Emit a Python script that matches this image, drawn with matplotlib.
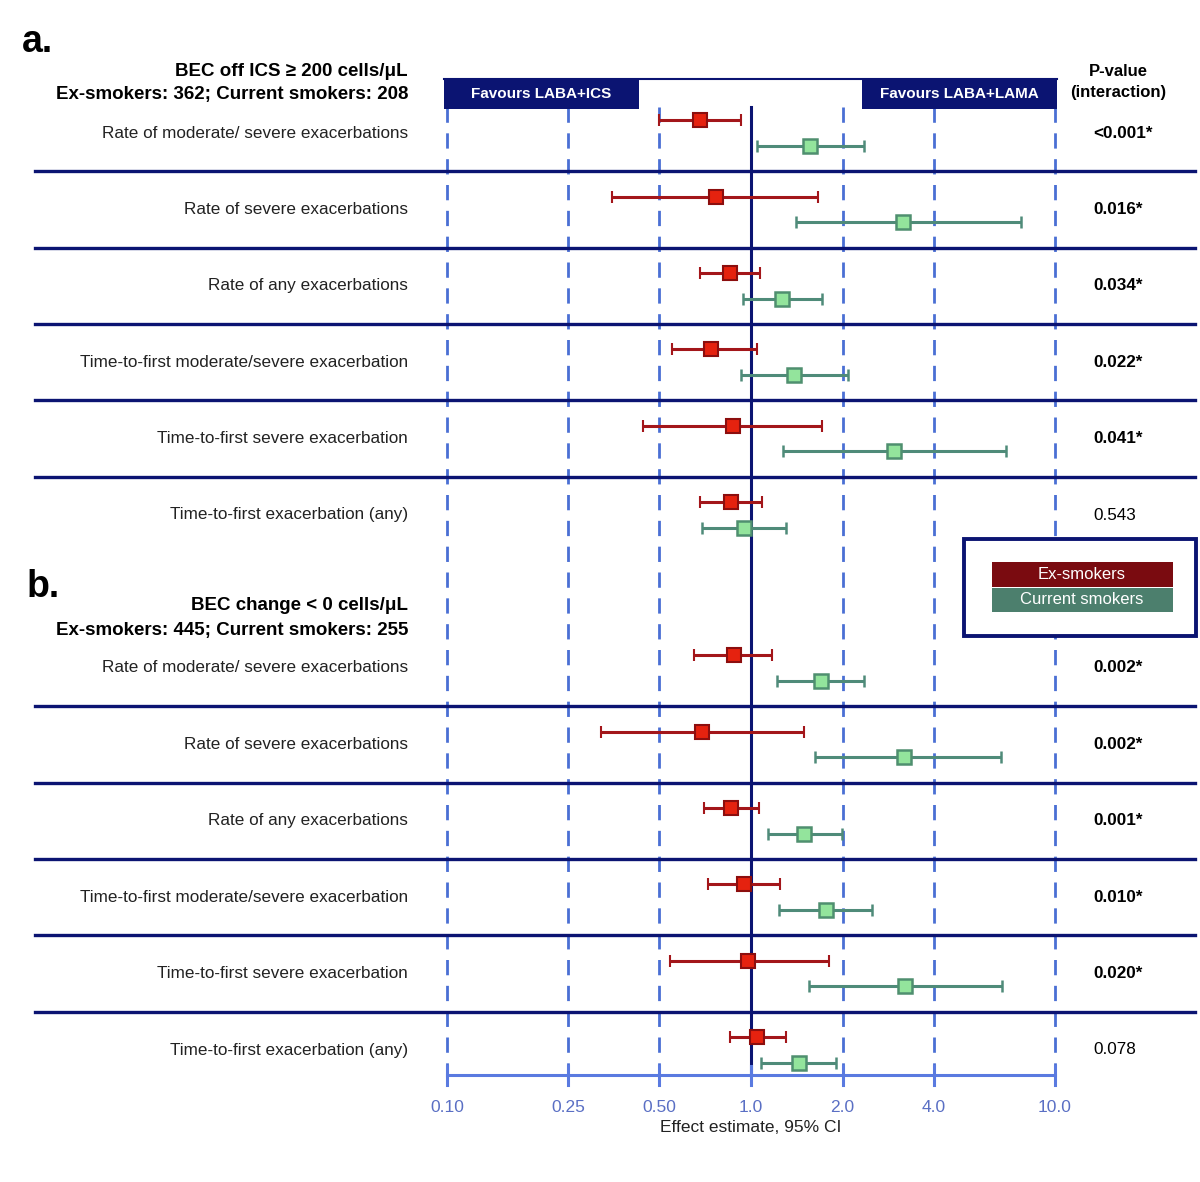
import matplotlib
matplotlib.use("Agg")
import matplotlib.pyplot as plt
from matplotlib.patches import Rectangle
import numpy as np

plt.rcParams['font.family'] = ['Liberation Sans', 'DejaVu Sans']

# ---------------- data ----------------
outcomes = [
    "Rate of moderate/ severe exacerbations",
    "Rate of severe exacerbations",
    "Rate of any exacerbations",
    "Time-to-first moderate/severe exacerbation",
    "Time-to-first severe exacerbation",
    "Time-to-first exacerbation (any)",
]

# Panel a: BEC off ICS >= 200 cells/uL
a_ex_est = [0.68, 0.77, 0.85, 0.74, 0.87, 0.86]
a_ex_lo  = [0.50, 0.35, 0.68, 0.55, 0.44, 0.68]
a_ex_hi  = [0.93, 1.66, 1.07, 1.05, 1.71, 1.09]
a_cs_est = [1.56, 3.16, 1.26, 1.38, 2.95, 0.95]
a_cs_lo  = [1.05, 1.41, 0.94, 0.93, 1.27, 0.69]
a_cs_hi  = [2.35, 7.73, 1.71, 2.08, 6.88, 1.30]
a_pvals  = ["<0.001*", "0.016*", "0.034*", "0.022*", "0.041*", "0.543"]

# Panel b: BEC change < 0 cells/uL
b_ex_est = [0.88, 0.69, 0.86, 0.95, 0.98, 1.05]
b_ex_lo  = [0.65, 0.32, 0.70, 0.72, 0.54, 0.85]
b_ex_hi  = [1.17, 1.49, 1.06, 1.25, 1.80, 1.30]
b_cs_est = [1.70, 3.19, 1.49, 1.76, 3.21, 1.44]
b_cs_lo  = [1.22, 1.62, 1.14, 1.24, 1.55, 1.08]
b_cs_hi  = [2.36, 6.64, 1.99, 2.50, 6.69, 1.90]
b_pvals  = ["0.002*", "0.002*", "0.001*", "0.010*", "0.020*", "0.078"]

xticks = [0.10, 0.25, 0.50, 1.0, 2.0, 4.0, 10.0]
xtick_labels = ["0.10", "0.25", "0.50", "1.0", "2.0", "4.0", "10.0"]

# ---------------- style ----------------
NAVY = "#0b1472"
DASH = "#4a6fd4"
AXIS = "#5a7ae0"
TICKLAB = "#5a6fc4"
EX_LINE = "#a3161a"
EX_FACE = "#e5220f"
EX_EDGE = "#8c0e0e"
CS_LINE = "#4f8b79"
CS_FACE = "#93e49c"
CS_EDGE = "#4f8f6f"
LEG_EX = "#7a0b10"
LEG_CS = "#4c7f6d"

W, H = 1200, 1182
fig = plt.figure(figsize=(W / 100, H / 100), dpi=100)

# forest axes: log x, pixel y
x0, x1 = 447, 1055
fa = fig.add_axes([x0 / W, 0, (x1 - x0) / W, 1])
fa.set_xscale("log")
fa.set_xlim(0.1, 10)
fa.set_ylim(H, 0)
fa.axis("off")

# overlay axes in pixel coordinates (drawn on top)
ov = fig.add_axes([0, 0, 1, 1])
ov.set_xlim(0, W)
ov.set_ylim(H, 0)
ov.axis("off")

row_a0, row_b0, step, off = 133, 668, 76.4, 12.8
dash_top, axis_y = 107, 1075

# dashed reference lines & solid null line
for t in xticks:
    if t == 1.0:
        fa.plot([t, t], [dash_top, axis_y], color=NAVY, lw=2.2, zorder=2, clip_on=False)
    else:
        fa.plot([t, t], [dash_top, axis_y], color=DASH, lw=2.0,
                linestyle=(0, (5.5, 3.8)), zorder=1, clip_on=False)

# bottom axis
fa.plot([0.1, 10], [axis_y, axis_y], color=AXIS, lw=2.2, zorder=3, clip_on=False)
for t, lab in zip(xticks, xtick_labels):
    fa.plot([t, t], [axis_y - 9, axis_y + 10], color=AXIS, lw=2.2, zorder=3, clip_on=False)
    fa.text(t, 1107, lab, ha="center", va="center", fontsize=12.5, color=TICKLAB)
fa.text(1.0, 1128, "Effect estimate, 95% CI", ha="center", va="center",
        fontsize=12.5, color="#222222")


def draw_panel(y0, ex_est, ex_lo, ex_hi, cs_est, cs_lo, cs_hi, pvals):
    n = len(outcomes)
    centers = [y0 + i * step for i in range(n)]
    for i, c in enumerate(centers):
        ye, yc = c - off, c + off
        fa.errorbar(ex_est[i], ye,
                    xerr=[[ex_est[i] - ex_lo[i]], [ex_hi[i] - ex_est[i]]],
                    fmt="s", color=EX_LINE, ecolor=EX_LINE, elinewidth=2.2,
                    capsize=4, capthick=2.2, markersize=9.5,
                    markerfacecolor=EX_FACE, markeredgecolor=EX_EDGE,
                    markeredgewidth=1.5, zorder=5)
        fa.errorbar(cs_est[i], yc,
                    xerr=[[cs_est[i] - cs_lo[i]], [cs_hi[i] - cs_est[i]]],
                    fmt="s", color=CS_LINE, ecolor=CS_LINE, elinewidth=2.2,
                    capsize=4, capthick=2.2, markersize=9.5,
                    markerfacecolor=CS_FACE, markeredgecolor=CS_EDGE,
                    markeredgewidth=1.8, zorder=5)
        ov.text(408, c, outcomes[i], ha="right", va="center", fontsize=12.3,
                color="#222222")
        bold = pvals[i].endswith("*")
        ov.text(1093, c, pvals[i], ha="left", va="center", fontsize=12.3,
                fontweight="bold" if bold else "normal", color="black")
        if i < n - 1:
            ys = (c + centers[i + 1]) / 2
            ov.plot([35, 1195], [ys, ys], color=NAVY, lw=2.4, zorder=4)


draw_panel(row_a0, a_ex_est, a_ex_lo, a_ex_hi, a_cs_est, a_cs_lo, a_cs_hi, a_pvals)
draw_panel(row_b0, b_ex_est, b_ex_lo, b_ex_hi, b_cs_est, b_cs_lo, b_cs_hi, b_pvals)

# panel headers
ov.text(22, 42, "a.", ha="left", va="center", fontsize=27, fontweight="bold")
ov.text(408, 71, "BEC off ICS \u2265 200 cells/\u03bcL", ha="right", va="center",
        fontsize=13.5, fontweight="bold")
ov.text(408, 95, "Ex-smokers: 362; Current smokers: 208", ha="right", va="center",
        fontsize=13.5, fontweight="bold")
ov.text(27, 587, "b.", ha="left", va="center", fontsize=27, fontweight="bold")
ov.text(408, 606, "BEC change < 0 cells/\u03bcL", ha="right", va="center",
        fontsize=13.5, fontweight="bold")
ov.text(408, 631, "Ex-smokers: 445; Current smokers: 255", ha="right", va="center",
        fontsize=13.5, fontweight="bold")

# favours boxes
ov.plot([444, 1057], [79, 79], color=NAVY, lw=1.5, zorder=6)
ov.add_patch(Rectangle((444, 78), 195, 31, facecolor=NAVY, edgecolor="none", zorder=6))
ov.add_patch(Rectangle((862, 78), 195, 31, facecolor=NAVY, edgecolor="none", zorder=6))
ov.text(541, 93.5, "Favours LABA+ICS", ha="center", va="center", color="white",
        fontsize=11, fontweight="bold", zorder=7)
ov.text(959, 93.5, "Favours LABA+LAMA", ha="center", va="center", color="white",
        fontsize=11, fontweight="bold", zorder=7)

# P-value header
ov.text(1118, 71, "P-value", ha="center", va="center", fontsize=12, fontweight="bold")
ov.text(1118, 92, "(interaction)", ha="center", va="center", fontsize=12, fontweight="bold")

# legend
ov.add_patch(Rectangle((964, 539), 232, 97, facecolor="white", edgecolor=NAVY,
                       lw=2.8, zorder=8))
ov.add_patch(Rectangle((992, 562), 181, 25, facecolor=LEG_EX, edgecolor="none", zorder=9))
ov.add_patch(Rectangle((992, 588), 181, 24, facecolor=LEG_CS, edgecolor="none", zorder=9))
ov.text(1082, 574.5, "Ex-smokers", ha="center", va="center", color="white",
        fontsize=12, zorder=10)
ov.text(1082, 600, "Current smokers", ha="center", va="center", color="white",
        fontsize=12, zorder=10)

fig.savefig("out.png", dpi=100)
